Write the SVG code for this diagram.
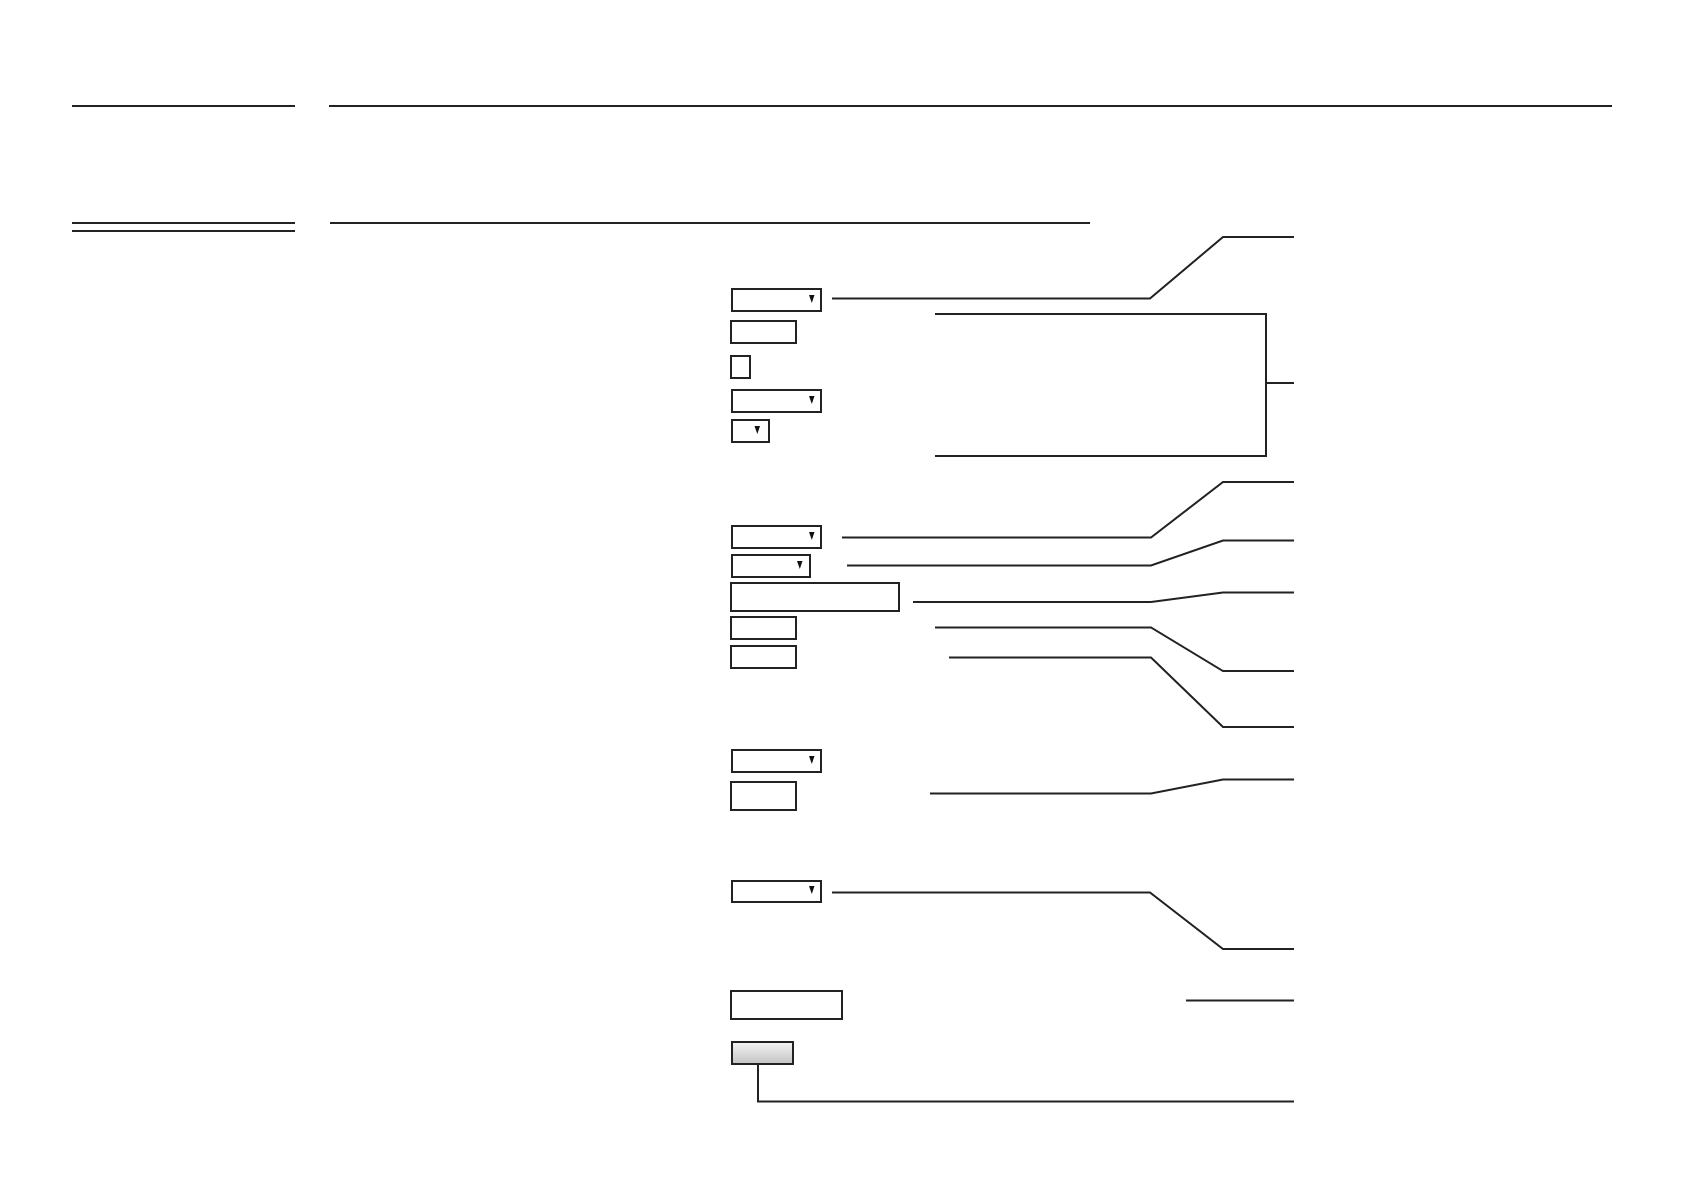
<svg xmlns="http://www.w3.org/2000/svg" width="1685" height="1192" viewBox="0 0 1685 1192">
<style>
.rule{stroke:#222;stroke-width:2;fill:none}
.box{fill:#fff;stroke:#222;stroke-width:2}
.conn{stroke:#222;stroke-width:2;fill:none;stroke-linejoin:miter}
.arr{fill:#111}
</style>
<defs>
<linearGradient id="btn" x1="0" y1="0" x2="0" y2="1">
<stop offset="0" stop-color="#f4f4f4"/>
<stop offset="1" stop-color="#c4c4c4"/>
</linearGradient>
</defs>
<rect width="1685" height="1192" fill="#fff"/>
<g id="header">
<line class="rule" x1="72" y1="106" x2="295" y2="106"/>
<line class="rule" x1="329" y1="106" x2="1612" y2="106"/>
<line class="rule" x1="72" y1="223" x2="295" y2="223"/>
<line class="rule" x1="72" y1="231" x2="295" y2="231"/>
<line class="rule" x1="330" y1="223" x2="1090" y2="223"/>
</g>
<g id="dropdown1"><rect class="box" x="732" y="289" width="89" height="22"/><path class="arr" d="M809,295 L814.5,295 L811.8,303 Z"/></g>
<g id="textbox1"><rect class="box" x="731" y="321" width="65" height="22"/></g>
<g id="checkbox1"><rect class="box" x="731" y="356" width="19" height="22"/></g>
<g id="dropdown2"><rect class="box" x="732" y="390" width="89" height="22"/><path class="arr" d="M809,396 L814.5,396 L811.8,404 Z"/></g>
<g id="dropdown3"><rect class="box" x="732" y="420" width="37" height="22"/><path class="arr" d="M754.5,426 L760,426 L757.3,434 Z"/></g>
<g id="dropdown4"><rect class="box" x="732" y="526" width="89" height="22"/><path class="arr" d="M809,532 L814.5,532 L811.8,540 Z"/></g>
<g id="dropdown5"><rect class="box" x="732" y="555" width="78" height="22"/><path class="arr" d="M797,561 L802.5,561 L799.8,569 Z"/></g>
<g id="textbox2"><rect class="box" x="731" y="583" width="168" height="28"/></g>
<g id="textbox3"><rect class="box" x="731" y="617" width="65" height="22"/></g>
<g id="textbox4"><rect class="box" x="731" y="646" width="65" height="22"/></g>
<g id="dropdown6"><rect class="box" x="732" y="750" width="89" height="22"/><path class="arr" d="M809,756 L814.5,756 L811.8,764 Z"/></g>
<g id="textbox5"><rect class="box" x="731" y="782" width="65" height="28"/></g>
<g id="dropdown7"><rect class="box" x="732" y="881" width="89" height="21"/><path class="arr" d="M809,886 L814.5,886 L811.8,894 Z"/></g>
<g id="textbox6"><rect class="box" x="731" y="991" width="111" height="28"/></g>
<g id="button1"><rect x="732" y="1042" width="61" height="22" fill="url(#btn)" stroke="#222" stroke-width="2"/></g>
<g id="connectors">
<polyline class="conn" points="832,298.5 1150,298.5 1223,237 1294,237"/>
<polyline class="conn" points="935,314 1266,314 1266,456 935,456"/>
<line class="conn" x1="1266" y1="383" x2="1294" y2="383"/>
<polyline class="conn" points="842,537.5 1151,537.5 1223,482 1294,482"/>
<polyline class="conn" points="847,565.5 1151,565.5 1223,540.5 1294,540.5"/>
<polyline class="conn" points="913,602 1151,602 1223,592.5 1294,592.5"/>
<polyline class="conn" points="935,627.5 1151,627.5 1223,671 1294,671"/>
<polyline class="conn" points="949,657.5 1151,657.5 1223,727 1294,727"/>
<polyline class="conn" points="930,793.5 1151,793.5 1223,779.5 1294,779.5"/>
<polyline class="conn" points="832,892.5 1150,892.5 1223,949 1294,949"/>
<line class="conn" x1="1186" y1="1000.5" x2="1294" y2="1000.5"/>
<polyline class="conn" points="758,1064 758,1101.5 1294,1101.5"/>
</g>
</svg>
